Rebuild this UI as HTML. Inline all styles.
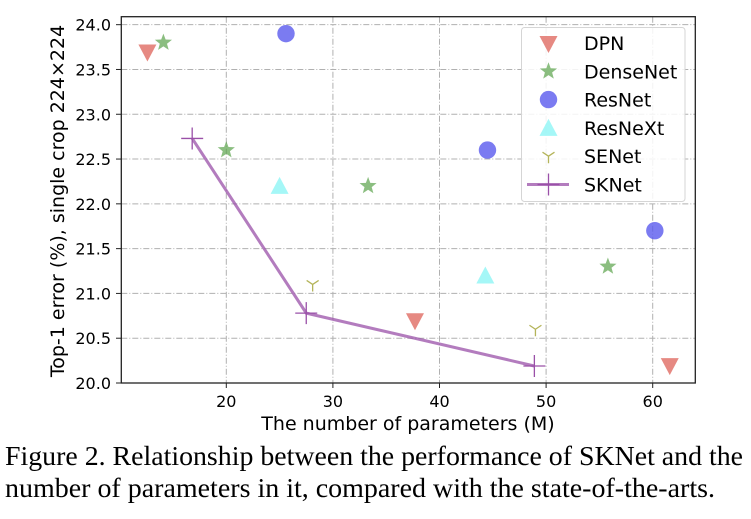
<!DOCTYPE html>
<html><head><meta charset="utf-8"><style>
html,body{margin:0;padding:0;background:#fff;}
svg{display:block;font-family:"DejaVu Sans","Liberation Sans",sans-serif;}
</style></head><body>
<svg id="chart" width="751" height="519" viewBox="0 0 751 519">
<g id="grid"></g>
<g id="marks"></g>
<rect x="121.3" y="16.7" width="574" height="366.3" fill="none" stroke="#222" stroke-width="1.3"/>
<g id="ticks"></g>
<text x="408" y="430" font-size="19" text-anchor="middle">The number of parameters (M)</text>
<text transform="translate(64,201) rotate(-90)" font-size="19" text-anchor="middle">Top-1 error (%), single crop 224×224</text>
<g id="legend"></g>
<text x="5" y="465" font-family="Liberation Serif, serif" font-size="27" textLength="738" lengthAdjust="spacingAndGlyphs">Figure 2. Relationship between the performance of SKNet and the</text>
<text x="5" y="497" font-family="Liberation Serif, serif" font-size="27" textLength="710" lengthAdjust="spacingAndGlyphs">number of parameters in it, compared with the state-of-the-arts.</text>
</svg>
<script>
const xTicks=[20,30,40,50,60];
const yTicks=[20.0,20.5,21.0,21.5,22.0,22.5,23.0,23.5,24.0];
const dpnX=[12.6,37.7,61.6];
const dpnY=[23.7,20.7,20.2];
const denseX=[14.1,20.0,33.3,55.8];
const denseY=[23.8,22.6,22.2,21.3];
const resX=[25.6,44.5,60.2];
const resY=[23.9,22.6,21.7];
const resxtX=[25.0,44.3];
const resxtY=[22.2,21.2];
const seX=[28.1,49.0];
const seY=[21.1,20.6];
const skX=[16.8,27.5,48.9];
const skY=[22.73,20.78,20.19];
const legendLabels=["DPN","DenseNet","ResNet","ResNeXt","SENet","SKNet"];

const NS="http://www.w3.org/2000/svg";
function sx(v){return 226.3+(v-20)*10.66;}
function sy(v){return 383-(v-20)*89.58;}
function mk(tag,attrs,parent){const e=document.createElementNS(NS,tag);for(const k in attrs)e.setAttribute(k,attrs[k]);parent.appendChild(e);return e;}
const grid=document.getElementById('grid'),ticks=document.getElementById('ticks'),marks=document.getElementById('marks'),legend=document.getElementById('legend');
xTicks.forEach(v=>{
  const l=mk('line',{x1:sx(v),x2:sx(v),y1:16.7,y2:383,stroke:'#b0b0b0','stroke-width':1,'stroke-dasharray':'6,2,1,2'},grid);
  
  
  const t=mk('line',{x1:sx(v),x2:sx(v),y1:383,y2:388,stroke:'#222'},ticks);
  
  
  const tx=mk('text',{x:sx(v),y:407,'font-size':16,'text-anchor':'middle'},ticks);tx.textContent=v;
  
  
});
yTicks.forEach(v=>{
  const l=mk('line',{x1:121.3,x2:695.3,y1:sy(v),y2:sy(v),stroke:'#b0b0b0','stroke-width':1,'stroke-dasharray':'6,2,1,2'},grid);
  
  
  const t=mk('line',{x1:116,x2:121.3,y1:sy(v),y2:sy(v),stroke:'#222'},ticks);
  
  
  const tx=mk('text',{x:111,y:sy(v)+6,'font-size':16,'text-anchor':'end'},ticks);tx.textContent=v.toFixed(1);
  
  
});
function star(cx,cy,r){let p=[];for(let i=0;i<10;i++){const a=-Math.PI/2+i*Math.PI/5;const rr=i%2?r*0.42:r;p.push((cx+rr*Math.cos(a)).toFixed(1)+','+(cy+rr*Math.sin(a)).toFixed(1));}return p.join(' ');}
function drawMarker(type,cx,cy,parent){
  let e;
  if(type==='dpn'){e=mk('polygon',{points:`${cx-9},${cy-7} ${cx+9},${cy-7} ${cx},${cy+10}`,fill:'#e06c63','fill-opacity':0.8},parent);}
  else if(type==='dense'){e=mk('polygon',{points:star(cx,cy,9),fill:'#5aa34a','fill-opacity':0.7},parent);}
  else if(type==='res'){e=mk('circle',{cx:cx,cy:cy,r:8.7,fill:'#5a5aee','fill-opacity':0.8},parent);}
  else if(type==='resxt'){e=mk('polygon',{points:`${cx-9},${cy+8} ${cx+9},${cy+8} ${cx},${cy-9}`,fill:'#8ff5f5','fill-opacity':0.8},parent);}
  else if(type==='se'){e=mk('path',{d:`M${cx},${cy} L${cx},${cy+7} M${cx},${cy} L${cx-6},${cy-4} M${cx},${cy} L${cx+6},${cy-4}`,stroke:'#b4b45a','stroke-width':1.3,fill:'none'},parent);}
  else {e=mk('path',{d:`M${cx-11},${cy} L${cx+11},${cy} M${cx},${cy-11} L${cx},${cy+11}`,stroke:'#9a50a8','stroke-width':1.3,fill:'none'},parent);}
  return e;
}
const series=[['dpn',dpnX,dpnY,'dpn-point'],['dense',denseX,denseY,'densenet-point'],['res',resX,resY,'resnet-point'],['resxt',resxtX,resxtY,'resnext-point'],['se',seX,seY,'senet-point']];
series.forEach(s=>{s[1].forEach((x,i)=>{
  const e=drawMarker(s[0],sx(x),sy(s[2][i]),marks);
  
  
});});
const line=mk('polyline',{points:skX.map((x,i)=>sx(x)+','+sy(skY[i])).join(' '),fill:'none',stroke:'#9a50a8','stroke-opacity':0.75,'stroke-width':3},marks);


skX.forEach((x,i)=>{
  const e=drawMarker('sk',sx(x),sy(skY[i]),marks);
  
  
});
const box=mk('rect',{x:521.5,y:27.5,width:163.5,height:174,rx:3,fill:'#fff','fill-opacity':0.85,stroke:'#d5d5d5'},legend);


const types=['dpn','dense','res','resxt','se','sk'];
legendLabels.forEach((lab,i)=>{
  const cy=43+i*28.3;
  const g=mk('g',{},legend);
  
  
  if(types[i]==='sk'){mk('line',{x1:527,x2:569,y1:cy,y2:cy,stroke:'#9a50a8','stroke-opacity':0.75,'stroke-width':3},g);}
  drawMarker(types[i],548.5,cy,g);
  const t=mk('text',{x:584,y:cy+7,'font-size':19},g);t.textContent=lab;
});
</script>
</body></html>
